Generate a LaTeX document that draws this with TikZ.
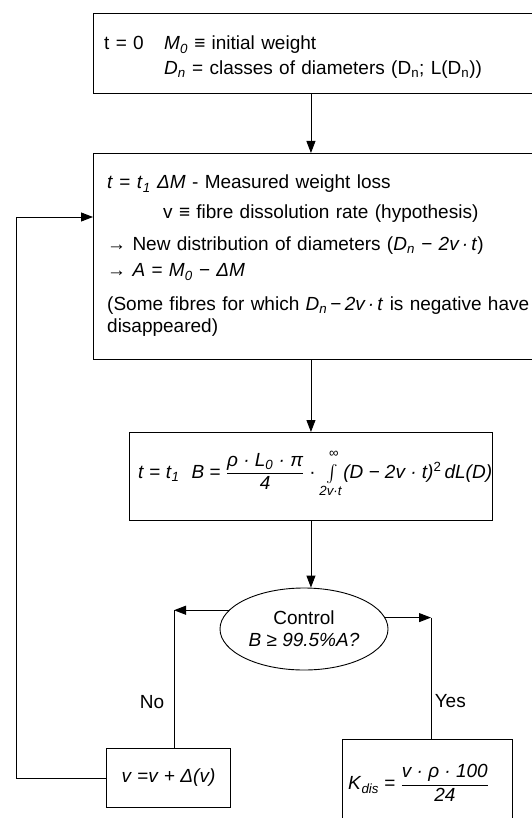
\documentclass[tikz,border=0pt]{standalone}
\usepackage{amsmath}
\usepackage{fontspec}
\setmainfont{Liberation Sans}
\usetikzlibrary{arrows.meta, positioning, shapes.geometric, calc}
\newcommand{\vi}[1]{\textit{#1}}
\newcommand{\lo}[1]{\textsubscript{#1}}

\begin{document}
\begin{tikzpicture}[
    x=1pt, y=-1pt,
    font=\fontsize{19}{22}\selectfont,
    box/.style={draw, line width=0.9pt, anchor=north west, inner sep=0pt},
    txt/.style={anchor=base west, inner sep=0pt, align=left},
    arrow/.style={-{Triangle[length=12pt, width=9pt]}, line width=0.9pt},
    line/.style={line width=0.9pt}
]
  \useasboundingbox (0,0) rectangle (531,818);

  \node[box, minimum width=480pt, minimum height=80pt] (init) at (93,13) {};
  \node[txt, text width=420pt] (inittxt) at (104,50)
    {\makebox[60pt][l]{t = 0}\vi{M}\lo{\vi{0}} ≡ initial weight\\[3pt]
     \hspace*{60pt}\vi{D}\lo{\vi{n}} = classes of diameters (D\lo{n}; L(D\lo{n}))};

  \node[box, minimum width=480pt, minimum height=206pt] (loss) at (93,153) {};
  \node[txt, text width=423pt] (losstxt) at (107,189)
    {\makebox[50pt][l]{\vi{t} = \vi{t}\lo{\vi{1}}}\vi{ΔM} - Measured weight loss\\[8pt]
     \hspace*{56pt}v ≡ fibre dissolution rate (hypothesis)\\[10pt]
     → New distribution of diameters (\vi{D}\lo{\vi{n}} − \vi{2v\,·\,t})\\[4pt]
     → \vi{A} = \vi{M}\lo{\vi{0}} − \vi{ΔM}\\[12pt]
     (Some fibres for which \vi{D}\lo{\vi{n}}\,−\,\vi{2v\,·\,t} is negative have\\
     disappeared)};

  \node[box, minimum width=363pt, minimum height=88pt] (bcalc) at (129,432) {};
  \node[txt] (bform) at (138,478)
    {\vi{t} = \vi{t}\lo{\vi{1}}\hspace{12pt}\vi{B} = $\dfrac{\text{\itshape ρ · L\textsubscript{0} · π}}{\text{\itshape 4}}$
     · $\textstyle\int\limits_{\text{\itshape 2v·t}}^{\text{\raisebox{3pt}{∞}}}$\vi{(D − 2v · t)}\textsuperscript{2}\,\vi{dL(D)}};

  \node[draw, ellipse, line width=0.9pt, minimum width=168pt, minimum height=82pt, inner sep=0pt,
        align=center] (ctrl) at (304,629) {Control\\ \vi{B ≥ 99.5\%A?}};

  \node[box, minimum width=124pt, minimum height=59pt] (newv) at (106,748) {\vi{v} =\vi{v} + \vi{Δ(v)}};
  \node[box, minimum width=170pt, minimum height=110pt] (kdis) at (342,739) {};
  \node[anchor=west, inner sep=0pt] (kform) at (348,783)
    {\vi{K}\lo{\vi{dis}} = $\dfrac{\text{\itshape v · ρ · 100}}{\text{\itshape 24}}$};

  \coordinate (nox) at (174,700);
  \coordinate (yesx) at (431,700);
  \coordinate (back) at (16,217);

  \draw[arrow] (init.south -| bcalc.north) -- (loss.north -| bcalc.north);
  \draw[arrow] (loss.south -| bcalc.north) -- (bcalc.north);
  \draw[arrow] (bcalc.south) -- (bcalc.south |- ctrl.north);
  \draw[arrow] (ctrl.166) -- (ctrl.166 -| nox);
  \draw[line] (ctrl.166 -| nox) -- node[left, pos=0.67, xshift=-6pt] (nolbl) {No} (newv.north -| nox);
  \draw[arrow] (ctrl.8) -- (ctrl.8 -| yesx);
  \draw[line] (ctrl.8 -| yesx) -- node[right, pos=0.69] (yeslbl) {Yes} (kdis.north -| yesx);
  \draw[arrow] (newv.west) -| (back) -- (back -| loss.west);
\end{tikzpicture}
\end{document}
